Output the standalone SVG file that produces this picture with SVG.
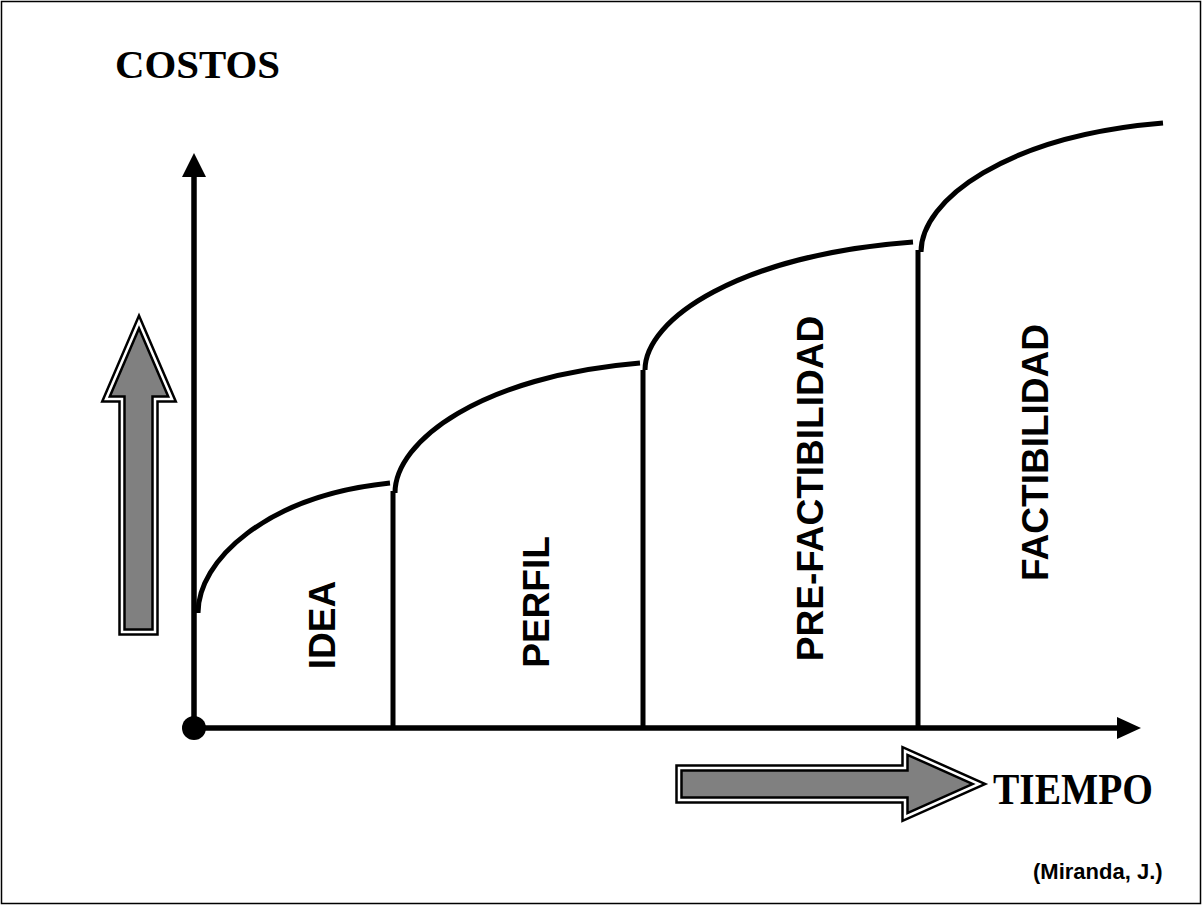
<svg xmlns="http://www.w3.org/2000/svg" width="1202" height="906" viewBox="0 0 1202 906">
<style>
.serif{font-family:"Liberation Serif","Times New Roman",serif;font-weight:bold;fill:#000}
.sans{font-family:"Liberation Sans",Arial,sans-serif;font-weight:bold;fill:#000}
.lbl{font-size:37px;text-anchor:middle}
.curve{fill:none;stroke:#000;stroke-width:5}
.sep{stroke:#000;stroke-width:5}
.axis{stroke:#000;stroke-width:5.5}
.blk1{fill:#808080;stroke:#000;stroke-width:7.5}
.blk2{fill:none;stroke:#fff;stroke-width:2.5}
</style>
<rect x="0" y="0" width="1202" height="906" fill="#fff"/>
<rect id="frame" x="1.5" y="1.5" width="1199" height="902" fill="none" stroke="#000" stroke-width="1.5"/>

<g id="connectors">
  <line class="axis" x1="194" y1="728" x2="194" y2="175"/>
  <polygon points="194,153 206,177 182,177" fill="#000"/>
  <line class="axis" x1="194" y1="728" x2="1119" y2="728"/>
  <polygon points="1141,728 1117,717 1117,739" fill="#000"/>
  <circle cx="194" cy="728" r="12" fill="#000"/>
</g>

<g id="separators">
  <line class="sep" x1="393" y1="491" x2="393" y2="728"/>
  <line class="sep" x1="643" y1="370" x2="643" y2="728"/>
  <line class="sep" x1="918" y1="250" x2="918" y2="728"/>
</g>

<g id="curves">
  <path class="curve" d="M198,613 C198,561 265,496 390,483"/>
  <path class="curve" d="M395,493 C395,441 481,376 640,363"/>
  <path class="curve" d="M645,370 C645,319 739,255 913,242"/>
  <path class="curve" d="M921,252 C921,200 1006,136 1163,123"/>
</g>

<g id="node-idea"><text class="sans lbl" transform="translate(335,625) rotate(-90)">IDEA</text></g>
<g id="node-perfil"><text class="sans lbl" transform="translate(549,602) rotate(-90)">PERFIL</text></g>
<g id="node-prefactibilidad"><text class="sans lbl" transform="translate(823,488.5) rotate(-90)">PRE-FACTIBILIDAD</text></g>
<g id="node-factibilidad"><text class="sans lbl" transform="translate(1048,452.5) rotate(-90)">FACTIBILIDAD</text></g>

<g id="node-costos">
  <text class="serif" x="115" y="78" font-size="40" textLength="165" lengthAdjust="spacingAndGlyphs">COSTOS</text>
  <polygon class="blk1" points="139,322 172,399 155,399 155,632 122,632 122,399 106,399"/>
  <polygon class="blk2" points="139,322 172,399 155,399 155,632 122,632 122,399 106,399"/>
</g>

<g id="node-tiempo">
  <polygon class="blk1" points="679,768 905,768 905,751 979,784 905,817 905,800 679,800"/>
  <polygon class="blk2" points="679,768 905,768 905,751 979,784 905,817 905,800 679,800"/>
  <text class="serif" x="993" y="804" font-size="44" textLength="160" lengthAdjust="spacingAndGlyphs">TIEMPO</text>
</g>

<g id="node-source">
  <text class="sans" x="1033" y="879" font-size="22">(Miranda, J.)</text>
</g>
</svg>
